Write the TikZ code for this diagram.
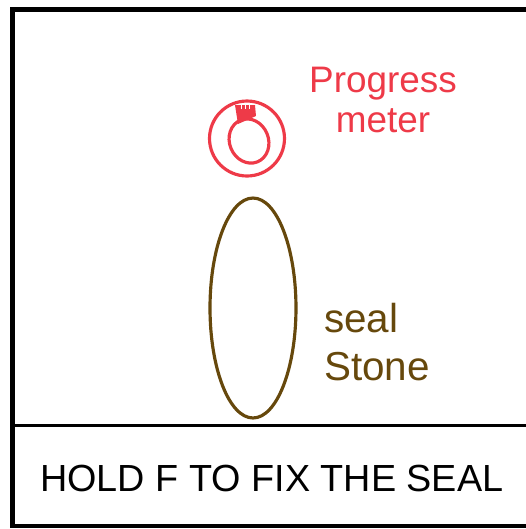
\documentclass[tikz,border=0pt]{standalone}
\usepackage{fontspec}
\setmainfont{Liberation Sans}
\usetikzlibrary{shapes.geometric}
\definecolor{MeterRed}{RGB}{238,58,72}
\definecolor{StoneBrown}{RGB}{102,72,12}
\tikzset{
  panel/.style={draw=black, line width=2.3pt},
  meter/.style={draw=MeterRed, line width=1.8pt, ellipse, inner sep=0pt},
  stone/.style={draw=StoneBrown, line width=1.8pt, ellipse, inner sep=0pt,
    minimum width=1.72cm, minimum height=4.4cm},
  redlabel/.style={text=MeterRed, font=\fontsize{21}{23}\selectfont, align=center},
  brownlabel/.style={text=StoneBrown, font=\fontsize{23}{27}\selectfont, align=left},
  prompt/.style={font=\fontsize{21.5}{26}\selectfont},
}

\begin{document}
\begin{tikzpicture}[x=0.02cm, y=-0.02cm]
  \useasboundingbox (0,0) rectangle (526,529);
  \clip (0,0) rectangle (526,529);
  % panel frame, open on the right
  \draw[panel] (540,9.5) -- (12.5,9.5) -- (12.5,526) -- (540,526);
  \draw[panel, line width=1.7pt] (12.5,425) -- (540,425);
  % progress meter
  \node[meter, circle, minimum size=1.5cm] (ring) at (247,138.5) {};
  \node[meter, minimum width=0.78cm, minimum height=0.9cm, rotate=22] (dial) at (249,141) {};
  \fill[MeterRed] (235,105) -- (255,105) -- (256,116) -- (238,124) -- cycle;
  \foreach \bx in {241,245,249}
    \draw[white, line width=0.5pt] (\bx,105) -- (\bx,109);
  \node[redlabel] (meterlabel) at (383,100) {Progress\\meter};
  % seal stone
  \node[stone] (seal) at (253,308) {};
  \node[brownlabel, anchor=west] (seallabel) at (318,342) {seal\\Stone};
  % prompt bar
  \node[prompt, anchor=west] (hint) at (34,478) {HOLD F TO FIX THE SEAL};
\end{tikzpicture}
\end{document}
